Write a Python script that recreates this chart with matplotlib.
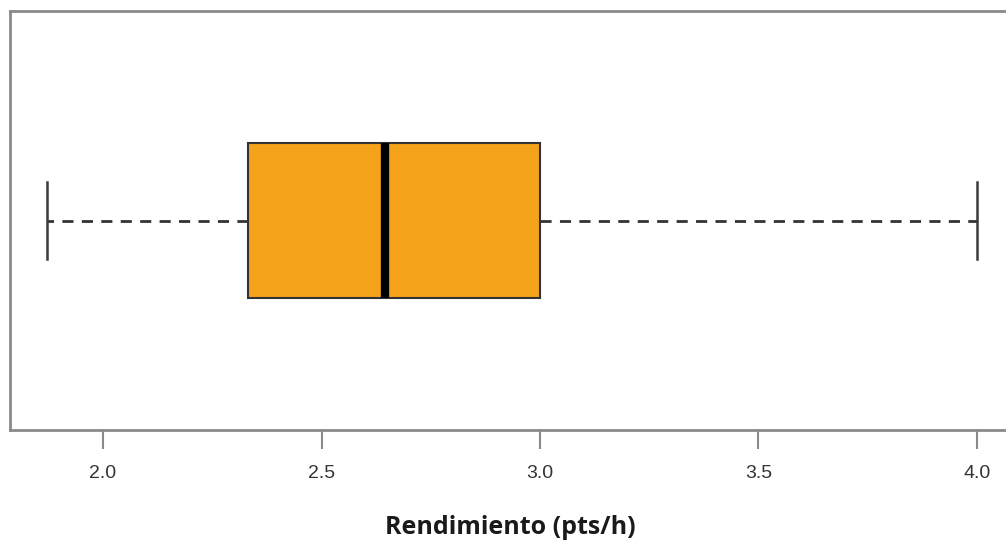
import matplotlib
matplotlib.use('Agg')
import matplotlib.pyplot as plt

# five-number summary
whisker_low = 1.872
q1 = 2.332
median = 2.646
q3 = 3.0
whisker_high = 4.0

xticks = [2.0, 2.5, 3.0, 3.5, 4.0]
xtick_labels = ['2.0', '2.5', '3.0', '3.5', '4.0']
xlabel = 'Rendimiento (pts/h)'

box_color = '#F4A31B'
frame_color = '#8a8a8a'

fig = plt.figure(figsize=(10.06, 5.43), dpi=100)
ax = fig.add_axes([10 / 1006, 113 / 543, 1004 / 1006, 419 / 543])

stats = [{
    'whislo': whisker_low, 'q1': q1, 'med': median,
    'q3': q3, 'whishi': whisker_high, 'fliers': [],
}]
ax.bxp(stats, positions=[1], widths=0.4, vert=False, patch_artist=True,
       showfliers=False,
       boxprops=dict(facecolor=box_color, edgecolor='#333333', linewidth=1.5),
       medianprops=dict(color='black', linewidth=6, solid_capstyle='butt'),
       whiskerprops=dict(color='#333333', linewidth=2, linestyle=(0, (4, 3))),
       capprops=dict(color='#3a3a3a', linewidth=1.8),
       capwidths=0.2)

ax.set_xlim(1.787, 4.085)
ax.set_ylim(0.46, 1.54)
ax.set_yticks([])
ax.set_xticks(xticks)
ax.set_xticklabels(xtick_labels, family='Liberation Sans', fontsize=14,
                   color='#333333')
ax.tick_params(axis='x', length=14, width=1.5, color=frame_color, pad=11)
for s in ax.spines.values():
    s.set_color(frame_color)
    s.set_linewidth(2)

fig.text(0.507, 0.029, xlabel, ha='center', va='center', family='Open Sans',
         fontweight='bold', fontsize=18, color='#1a1a1a')

fig.savefig('out.png', dpi=100)
plt.close(fig)
